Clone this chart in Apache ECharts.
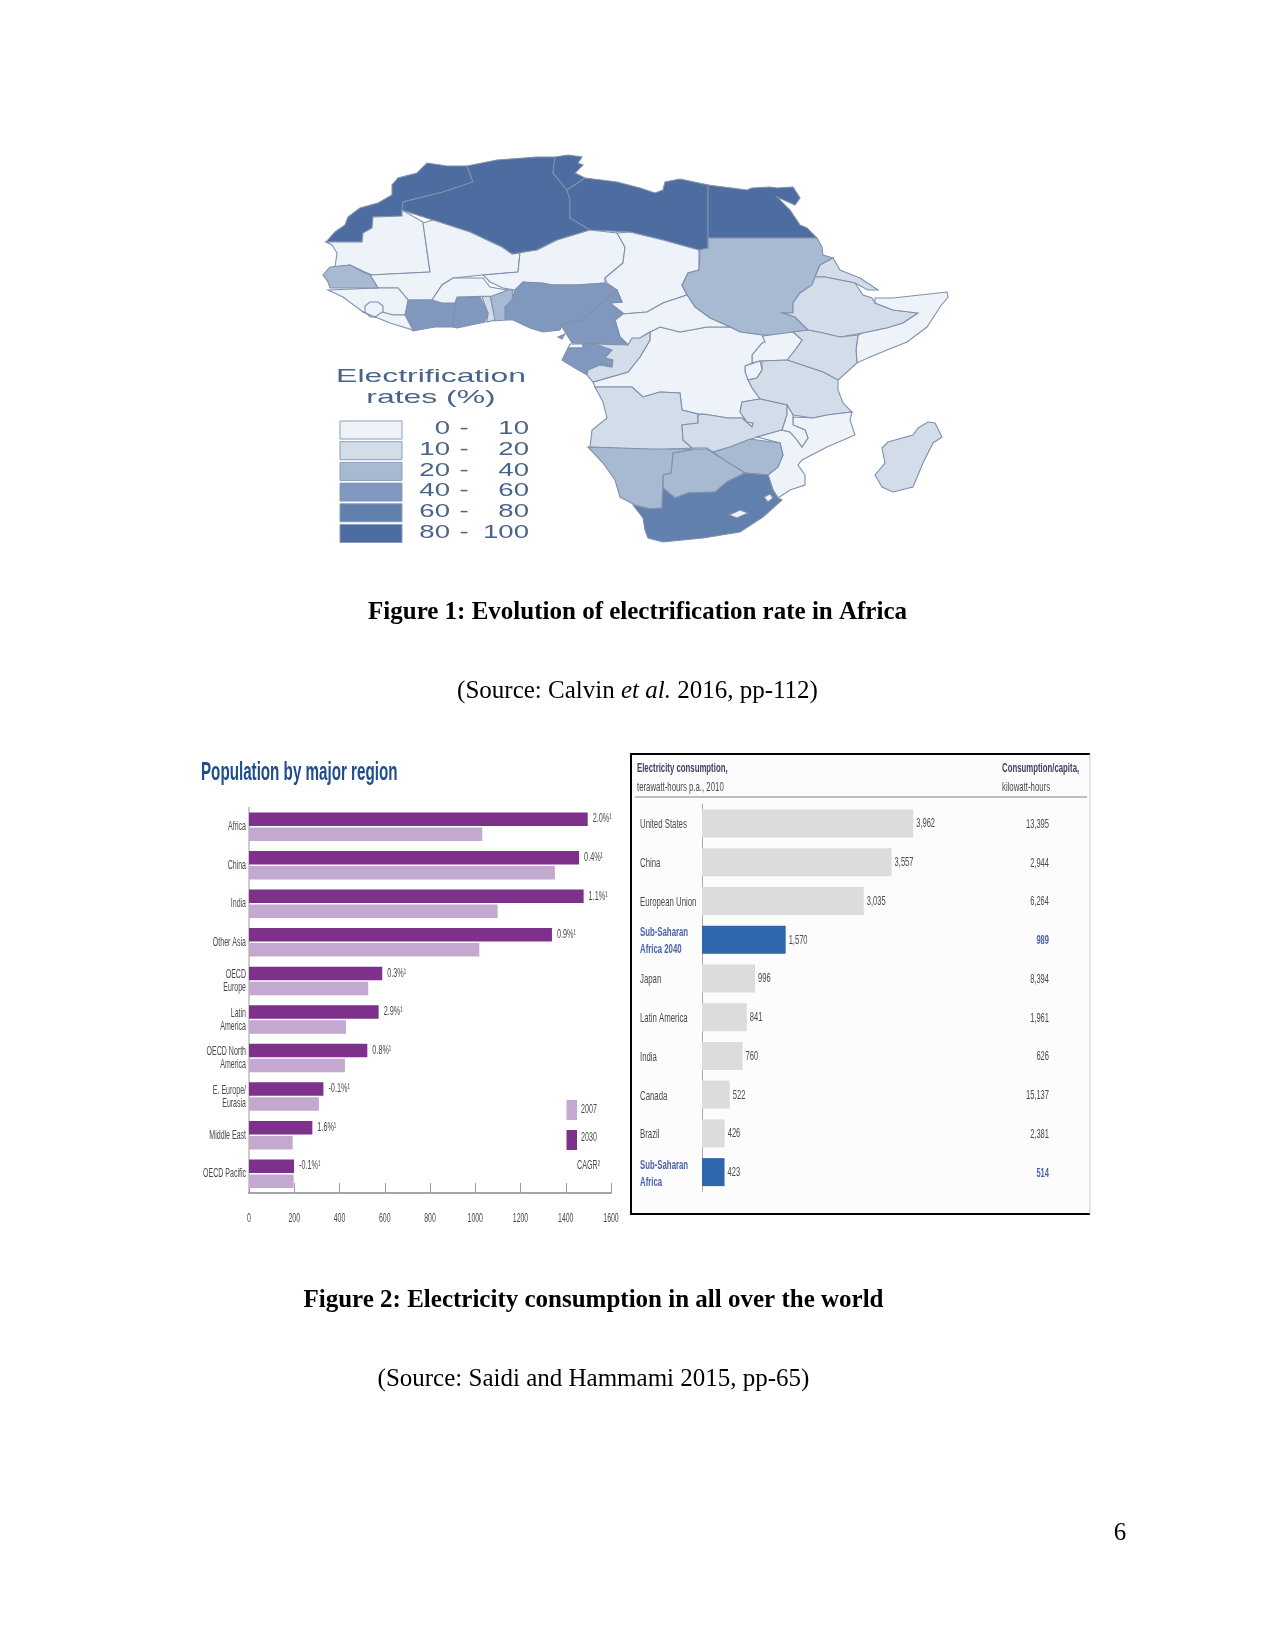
<!DOCTYPE html>
<html><head><meta charset="utf-8">
<style>html,body{margin:0;padding:0;background:#fff}#c{width:1275px;height:1650px}</style>
<script src="https://cdn.jsdelivr.net/npm/echarts@6/dist/echarts.min.js"></script>
</head><body><div id="c"></div>
<script>
// ---------- Population chart data ----------
const popCategories = ['Africa','China','India','Other Asia','OECD\nEurope','Latin\nAmerica','OECD North\nAmerica','E. Europe/\nEurasia','Middle East','OECD Pacific'];
const pop2030 = [1497,1459,1479,1339,589,573,523,329,280,199];
const pop2007 = [1031,1352,1099,1018,527,429,424,309,193,197];
const popCagr = ['2.0%¹','0.4%¹','1.1%¹','0.9%¹','0.3%¹','2.9%¹','0.8%¹','-0.1%¹','1.6%¹','-0.1%¹'];
const popTicks = [0,200,400,600,800,1000,1200,1400,1600];
// ---------- Electricity chart data ----------
const elecCategories = ['United States','China','European Union','Sub-Saharan\nAfrica 2040','Japan','Latin America','India','Canada','Brazil','Sub-Saharan\nAfrica'];
const elecValues = [3962,3557,3035,1570,996,841,760,522,426,423];
const elecPerCapita = ['13,395','2,944','6,264','989','8,394','1,961','626','15,137','2,381','514'];
const elecHighlighted = ['Sub-Saharan\nAfrica 2040','Sub-Saharan\nAfrica'];
// ---------- Map data ----------
const rateClasses = [[0,10],[10,20],[20,40],[40,60],[60,80],[80,100]];
const rateColors = ['#eef2f9','#d3dde9','#a8b9d2','#8098bd','#6180ad','#4d6c9f'];
const countryNames = ['Morocco','Algeria','Tunisia','Libya','Egypt','Mauritania','Mali','Niger','Chad','Sudan','Eritrea','Ethiopia','Somalia','Kenya','Uganda','Rwanda-Burundi','Tanzania','DRC','CAR','Cameroon','Nigeria','Benin','Togo','Ghana','Ivory Coast','Burkina Faso','Guinea','Sierra Leone','Liberia','Senegal','Eq. Guinea','Bioko','Gabon','Congo','Angola','Zambia','Mozambique','Malawi','Zimbabwe','Botswana','Namibia','South Africa','Lesotho','Swaziland','Madagascar'];
const countryRates = [90,90,90,90,90,5,5,5,5,30,15,15,5,15,5,5,15,5,5,50,50,30,15,50,50,5,5,5,5,30,5,50,50,15,15,15,5,5,30,30,30,70,5,5,15];
const countryShapes = [
[[326,242],[335,232],[345,225],[348,217],[360,208],[378,203],[392,195],[392,185],[398,178],[417,173],[427,163],[447,166],[467,166],[473,182],[443,192],[403,202],[402,216],[373,217],[372,228],[363,233],[362,242]],
[[467,166],[497,160],[537,157],[555,157],[553,173],[567,190],[570,200],[570,218],[590,230],[557,240],[537,250],[512,254],[502,247],[470,232],[433,220],[402,210],[403,202],[443,192],[473,182]],
[[555,157],[568,155],[582,157],[578,163],[583,165],[575,173],[585,178],[567,190],[553,173]],
[[585,178],[617,182],[640,188],[655,193],[663,190],[665,182],[680,179],[708,185],[708,238],[708,248],[699,250],[663,240],[630,232],[590,230],[570,218],[570,200],[567,190]],
[[708,185],[747,190],[752,188],[770,187],[777,188],[793,187],[800,198],[795,205],[777,197],[790,210],[800,225],[807,228],[817,238],[708,238]],
[[326,242],[362,242],[363,233],[372,228],[373,217],[402,216],[402,210],[423,222],[430,272],[372,275],[365,272],[350,265],[335,267],[337,253],[332,245]],
[[423,223],[433,220],[470,232],[502,247],[512,254],[520,253],[518,272],[483,275],[453,278],[442,285],[432,300],[408,300],[398,288],[378,288],[370,275],[430,272]],
[[590,230],[617,233],[625,247],[623,263],[605,278],[605,283],[577,285],[553,285],[523,282],[515,290],[503,288],[490,282],[483,275],[518,272],[520,253],[512,254],[537,250],[557,240]],
[[617,233],[630,232],[663,240],[699,250],[699,270],[688,273],[682,285],[687,295],[663,303],[647,312],[623,314],[610,303],[622,302],[617,290],[607,283],[605,278],[623,263],[625,247]],
[[708,238],[817,238],[822,247],[823,255],[833,258],[820,265],[815,277],[812,285],[800,293],[793,303],[793,313],[783,313],[795,317],[808,330],[793,332],[777,335],[762,335],[740,332],[730,327],[710,318],[695,307],[687,295],[682,285],[688,273],[699,270],[700,252],[699,250],[708,248]],
[[820,265],[833,258],[840,270],[860,278],[878,290],[868,290],[855,283],[825,277],[815,277]],
[[815,277],[825,277],[855,283],[863,295],[872,298],[875,303],[893,310],[918,313],[903,323],[887,328],[863,333],[840,337],[823,333],[808,330],[795,317],[783,313],[793,313],[793,303],[800,293],[812,285]],
[[875,303],[875,298],[893,298],[920,295],[947,292],[948,297],[940,307],[927,327],[907,342],[887,350],[870,357],[857,363],[856,350],[858,335],[863,333],[887,328],[903,323],[918,313],[893,310]],
[[793,332],[808,330],[823,333],[840,337],[858,335],[856,350],[857,363],[838,380],[823,372],[787,360],[795,350],[802,340]],
[[763,336],[793,332],[802,340],[795,350],[787,360],[760,361],[752,363],[752,355],[762,343]],
[[745,366],[760,361],[762,370],[757,378],[748,380],[745,372]],
[[762,361],[787,360],[823,372],[838,380],[838,390],[843,403],[852,412],[827,415],[813,418],[793,415],[787,405],[760,399],[752,388],[748,380],[757,378],[762,370]],
[[650,332],[660,327],[680,332],[707,327],[730,327],[740,332],[762,335],[765,342],[762,343],[752,355],[752,363],[745,366],[745,372],[748,380],[752,388],[760,399],[742,402],[740,412],[747,422],[753,423],[752,427],[742,418],[728,418],[703,414],[698,414],[682,410],[680,393],[660,392],[643,397],[632,387],[595,387],[593,382],[628,372],[640,357],[650,340]],
[[623,314],[647,312],[663,303],[687,295],[695,307],[710,318],[730,327],[707,327],[680,332],[660,327],[650,332],[640,338],[632,340],[628,345],[620,337],[615,320]],
[[617,290],[622,302],[610,303],[623,313],[615,320],[620,337],[628,345],[572,343],[562,327],[563,323],[582,320],[593,310]],
[[515,290],[523,282],[543,283],[553,285],[577,285],[605,283],[617,290],[593,310],[582,320],[563,323],[560,330],[543,332],[530,328],[513,320],[505,320],[505,307],[512,300]],
[[490,296],[507,290],[513,290],[512,300],[505,307],[505,320],[495,321]],
[[482,297],[490,296],[495,320],[487,322],[488,313]],
[[457,297],[480,297],[488,313],[485,322],[457,328],[453,327],[455,303]],
[[408,300],[432,300],[442,303],[455,303],[453,327],[435,327],[413,331],[405,315]],
[[432,300],[442,285],[453,278],[483,278],[490,287],[507,290],[503,292],[492,296],[457,297],[455,303],[442,303]],
[[328,290],[378,288],[398,288],[408,300],[405,315],[393,315],[382,312],[375,317],[363,312],[343,297]],
[[365,306],[370,302],[378,302],[383,306],[383,312],[378,317],[370,317],[365,312]],
[[363,312],[375,317],[382,312],[393,315],[405,315],[413,330],[390,323]],
[[323,275],[330,267],[350,265],[365,273],[370,275],[378,288],[330,288],[328,282]],
[[570,344],[583,344],[583,348],[568,348]],
[[558,337],[565,334],[562,339]],
[[568,348],[583,348],[583,344],[595,344],[612,350],[605,358],[613,360],[612,367],[600,365],[588,370],[587,375],[575,368],[562,360]],
[[628,345],[632,338],[640,338],[650,332],[650,340],[640,357],[628,372],[593,382],[587,375],[588,370],[600,365],[612,367],[613,360],[605,358],[612,350],[595,344]],
[[595,387],[632,387],[643,397],[660,392],[680,393],[682,410],[698,414],[698,423],[682,425],[683,440],[692,448],[653,450],[590,447],[592,430],[607,418],[603,402]],
[[760,399],[742,402],[740,412],[747,422],[753,423],[752,427],[742,418],[728,418],[703,414],[698,415],[698,423],[682,425],[683,440],[692,448],[707,448],[713,452],[730,447],[757,437],[782,430],[787,415],[787,405]],
[[793,417],[813,418],[827,415],[852,412],[850,420],[855,435],[827,447],[802,460],[798,465],[805,475],[805,485],[790,490],[778,498],[773,490],[768,475],[778,467],[783,455],[780,443],[757,437],[782,430],[790,432],[797,440],[802,447],[808,438],[805,430],[793,425]],
[[787,405],[793,415],[793,425],[805,430],[808,438],[802,447],[797,440],[790,432],[782,430],[787,415]],
[[713,452],[730,447],[750,439],[780,443],[783,455],[778,467],[768,475],[745,473],[728,463]],
[[695,449],[707,449],[745,473],[727,482],[715,492],[688,493],[675,498],[663,488],[663,475],[671,473],[673,453]],
[[588,447],[653,449],[692,449],[695,449],[673,453],[671,473],[663,475],[662,508],[650,509],[635,505],[620,497],[615,480],[603,463]],
[[633,505],[650,509],[662,508],[663,488],[675,498],[688,493],[715,492],[727,482],[745,473],[768,475],[773,490],[778,498],[782,500],[763,517],[740,532],[703,538],[663,542],[648,538],[645,530],[643,518]],
[[729,515],[740,510],[748,513],[737,518]],
[[764,497],[770,494],[773,498],[768,502]],
[[928,422],[935,423],[942,437],[933,443],[923,463],[913,487],[893,492],[882,487],[875,475],[885,463],[882,448],[888,442],[913,435],[918,428]]
];

const SERIF = '"Liberation Serif","Times New Roman",serif';
const SANS = '"Liberation Sans",Arial,sans-serif';

echarts.registerMap('africa', {type:'FeatureCollection', features: countryNames.map((n,i)=>({
  type:'Feature', properties:{name:n},
  geometry:{type:'Polygon', coordinates:[countryShapes[i].concat([countryShapes[i][0]])]}
}))});

const chart = echarts.init(document.getElementById('c'), null, {renderer:'canvas'});

const option = {
  animation:false,
  backgroundColor:'#fff',
  grid:[
    {left:249,top:807.4,width:362,height:385.6},
    {left:702,top:804,width:213.2,height:387.5}
  ],
  xAxis:[
    {gridIndex:0,type:'value',min:0,max:1600,interval:200,
     axisLine:{show:true,lineStyle:{color:'#888',width:1.5}},
     axisTick:{show:true,inside:true,length:10,lineStyle:{color:'#999'}},
     splitLine:{show:false},axisLabel:{show:false}},
    {gridIndex:1,type:'value',min:0,max:4000,show:false,splitLine:{show:false}}
  ],
  yAxis:[
    {gridIndex:0,type:'category',inverse:true,data:popCategories,
     axisLine:{show:true,lineStyle:{color:'#bbb',width:1.5}},axisTick:{show:false},axisLabel:{show:false}},
    {gridIndex:1,type:'category',inverse:true,data:elecCategories,
     axisLine:{show:true,lineStyle:{color:'#aaa',width:1}},axisTick:{show:false},axisLabel:{show:false}}
  ],
  legend:{left:566.5,top:1100,padding:0,orient:'vertical',itemWidth:10.5,itemHeight:20,itemGap:10,data:['2007','2030'],
    selectedMode:false,formatter:()=>' ',textStyle:{fontSize:10},icon:'rect'},
  visualMap:{show:false,type:'piecewise',seriesIndex:3,
    pieces:rateClasses.map((c,i)=>({min:c[0],max:c[1],color:rateColors[i]}))},
  series:[
    {name:'2030',type:'bar',xAxisIndex:0,yAxisIndex:0,data:pop2030,barWidth:13.5,barGap:'11%',silent:true,itemStyle:{color:'#7d318b'}},
    {name:'2007',type:'bar',xAxisIndex:0,yAxisIndex:0,data:pop2007,barWidth:13.5,barGap:'11%',silent:true,itemStyle:{color:'#c3a9cf'}},
    {name:'Electricity consumption',type:'bar',xAxisIndex:1,yAxisIndex:1,silent:true,barWidth:28,
     data:elecValues.map((v,i)=>({value:v,itemStyle:{color:elecHighlighted.includes(elecCategories[i])?'#2f66ae':'#dcdcdc'}}))},
    {name:'Electrification rates',type:'map',map:'africa',silent:true,roam:false,showLegendSymbol:false,
     projection:{project:p=>[p[0],p[1]],unproject:p=>[p[0],p[1]]},
     boundingCoords:[[300,140],[960,560]],
     layoutCenter:[630,350],layoutSize:660,
     itemStyle:{borderColor:'#7f90ad',borderWidth:1.1,areaColor:'#eef2f9'},
     label:{show:false},emphasis:{disabled:true},select:{disabled:true},
     data:countryNames.map((n,i)=>({name:n,value:countryRates[i]}))}
  ]
};
chart.setOption(option);

// squeezed text, as the picture's labels are strongly condensed
function nt(x,y,text,size,color,scale,align,weight,lineHeight,family){
  return {type:'text',x:x,y:y,scaleX:scale,silent:true,z:20,style:{x:0,y:0,text:text,fontSize:size,fontFamily:family||SANS,
    fontWeight:weight||'normal',fill:color,align:align||'left',verticalAlign:'middle',lineHeight:lineHeight||size+1}};
}
const ink='#4a4a4a', blue='#4b62a8', mapInk='#4a6488';
const graphics = [
  nt(637.5,613,'Figure 1: Evolution of electrification rate in Africa',25,'#000',1,'center','bold',26,SERIF),
  {type:'text',x:637.5,y:691,silent:true,style:{align:'center',verticalAlign:'middle',fill:'#000',
    text:'{r|(Source: Calvin }{i|et al.}{r| 2016, pp-112)}',
    rich:{r:{fontFamily:SERIF,fontSize:25,fill:'#000'},i:{fontFamily:SERIF,fontSize:25,fontStyle:'italic',fill:'#000'}}}},
  nt(593.5,1301,'Figure 2: Electricity consumption in all over the world',25,'#000',1,'center','bold',26,SERIF),
  nt(593.5,1379,'(Source: Saidi and Hammami 2015, pp-65)',25,'#000',1,'center','normal',26,SERIF),
  nt(1120,1533,'6',25,'#000',1,'center','normal',26,SERIF),
  nt(431,376.5,'Electrification',19,mapInk,1.68,'center'),
  nt(431,397.5,'rates (%)',19,mapInk,1.68,'center'),
  nt(201,773,'Population by major region',25,'#1f4c8c',0.607,'left','bold'),
  {type:'rect',silent:true,z:-1,shape:{x:631,y:754,width:459,height:460},style:{fill:'#fcfcfc',stroke:null}},
  {type:'polyline',silent:true,z:5,shape:{points:[[1090,754],[631,754],[631,1214],[1090,1214]]},style:{fill:null,stroke:'#000',lineWidth:2}},
  {type:'line',silent:true,z:5,shape:{x1:1090,y1:754,x2:1090,y2:1214},style:{stroke:'#ccc',lineWidth:1}},
  {type:'line',silent:true,z:5,shape:{x1:635,y1:797,x2:1087,y2:797},style:{stroke:'#aaa',lineWidth:1.5}},
  nt(637,768,'Electricity consumption,',13,'#3f4068',0.6,'left','bold'),
  nt(637,787,'terawatt-hours p.a., 2010',13,ink,0.6),
  nt(1002,768,'Consumption/capita,',13,'#3f4068',0.6,'left','bold'),
  nt(1002,787,'kilowatt-hours',13,ink,0.6),
  nt(581,1109,'2007',13,ink,0.55),
  nt(581,1137,'2030',13,ink,0.55),
  nt(577,1165,'CAGR²',13,ink,0.55)
];
rateClasses.forEach((c,i)=>{
  const y = 421 + i*20.7, ym = y+8;
  graphics.push({type:'rect',silent:true,z:20,shape:{x:340,y:y,width:62,height:18},style:{fill:rateColors[i],stroke:'#8a9dbb',lineWidth:1}});
  graphics.push(nt(450,ym,String(c[0]),19,mapInk,1.45,'right'));
  graphics.push(nt(464,ym,'-',19,mapInk,1.45,'center'));
  graphics.push(nt(529,ym,String(c[1]),19,mapInk,1.45,'right'));
});
// labels placed through the chart's own scales
popTicks.forEach(v=>{
  graphics.push(nt(chart.convertToPixel({xAxisIndex:0},v),1218.5,String(v),12,ink,0.58,'center'));
});
popCategories.forEach((c,i)=>{
  const yc = chart.convertToPixel({yAxisIndex:0},i);
  graphics.push(nt(246,yc,c,13,ink,0.54,'right','normal',13));
  const end = chart.convertToPixel({xAxisIndex:0},pop2030[i]);
  graphics.push(nt(end+5,yc-7.7,popCagr[i],12.5,ink,0.58));
});
elecCategories.forEach((c,i)=>{
  const yc = chart.convertToPixel({yAxisIndex:1},i);
  const hi = elecHighlighted.includes(c);
  graphics.push(nt(640,yc+1.5,c,13,hi?blue:ink,0.6,'left',hi?'bold':'normal',17));
  const end = chart.convertToPixel({xAxisIndex:1},elecValues[i]);
  graphics.push(nt(end+3,yc+0.5,elecValues[i].toLocaleString('en-US'),13,ink,0.58));
  graphics.push(nt(1049,yc+1,elecPerCapita[i],13,hi?blue:ink,0.58,'right',hi?'bold':'normal'));
});
chart.setOption({graphic:graphics});
</script></body></html>
